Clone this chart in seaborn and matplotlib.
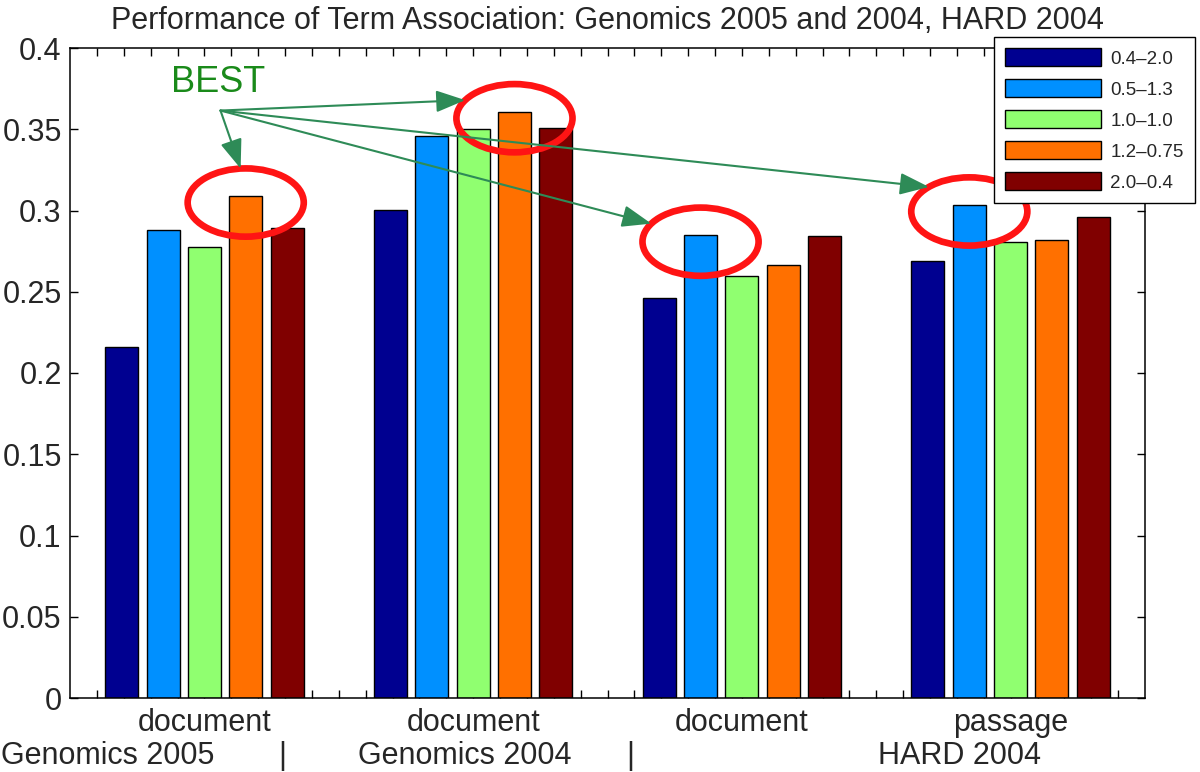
import numpy as np
import pandas as pd
import seaborn as sns
import matplotlib.pyplot as plt
from matplotlib.patches import Ellipse, Patch

# groups along x (labels repeat, so use unique keys)
groups = ['Genomics 2005 document', 'Genomics 2004 document',
          'HARD 2004 document', 'HARD 2004 passage']
group_labels = ['document', 'document', 'document', 'passage']
settings = ['0.4–2.0', '0.5–1.3', '1.0–1.0', '1.2–0.75', '2.0–0.4']

# values, one list per setting
v_04_20 = [0.2162, 0.3003, 0.2463, 0.2687]
v_05_13 = [0.2880, 0.3460, 0.2848, 0.3034]
v_10_10 = [0.2777, 0.3500, 0.2599, 0.2804]
v_12_075 = [0.3089, 0.3608, 0.2663, 0.2818]
v_20_04 = [0.2894, 0.3506, 0.2845, 0.2962]

best = ['1.2–0.75', '1.2–0.75', '0.5–1.3', '0.5–1.3']
colors = ['#000090', '#0090ff', '#90ff70', '#ff7000', '#800000']
yticks = [0, 0.05, 0.1, 0.15, 0.2, 0.25, 0.3, 0.35, 0.4]
ytick_labels = ['0', '0.05', '0.1', '0.15', '0.2', '0.25', '0.3', '0.35', '0.4']

series = [v_04_20, v_05_13, v_10_10, v_12_075, v_20_04]
rows = []
for s, vals in zip(settings, series):
    for g, v in zip(groups, vals):
        rows.append({'group': g, 'setting': s, 'value': v})
df = pd.DataFrame(rows)

sns.set_theme(style='ticks')
plt.rcParams['font.family'] = ['Liberation Sans', 'DejaVu Sans']

fig, ax = plt.subplots(figsize=(12, 7.72), dpi=100)
ax.set_position([70 / 1200, 1 - 698 / 772, 1075 / 1200, 650 / 772])

sns.barplot(data=df, x='group', y='value', hue='setting', order=groups,
            hue_order=settings, palette=colors, saturation=1, width=0.769,
            gap=0.2, edgecolor='black', linewidth=1, errorbar=None,
            legend=False, ax=ax)

ax.set_xlim(-0.5, 3.5)
ax.set_ylim(0, 0.4)
ax.set_yticks(yticks)
ax.set_yticklabels(ytick_labels, fontsize=22)
ax.set_xticks(range(len(groups)))
ax.set_xticklabels(group_labels, fontsize=22)
minor = [x for x in np.round(np.arange(-0.4, 3.45, 0.1), 1) if x != round(x)]
ax.set_xticks(minor, minor=True)
ax.tick_params(which='both', direction='in', top=True, right=True,
               length=6, width=1, color='black')
ax.tick_params(axis='x', pad=7)
ax.tick_params(axis='y', pad=6)
ax.set_xlabel('')
ax.set_ylabel('')
for sp in ax.spines.values():
    sp.set_linewidth(1.1)
    sp.set_color('black')

ax.set_title('Performance of Term Association: Genomics 2005 and 2004, HARD 2004',
             fontsize=22, pad=14)

# red ellipses around the best bar of each group + arrows from BEST
start = (0.06, 0.3615)
ax.text(0.052, 0.3785, 'BEST', fontsize=26, color='#1a8a1a',
        ha='center', va='center')
angles = [95, 148, 148, 134]
ew, eh = 0.432, 0.042
for i, b in enumerate(best):
    j = settings.index(b)
    bar = min(ax.containers[j], key=lambda p: abs(p.get_x() + p.get_width() / 2 - i))
    cx = bar.get_x() + bar.get_width() / 2
    cy = bar.get_height() - 0.004
    ax.add_patch(Ellipse((cx, cy), ew, eh, fill=False, edgecolor='#ff1414',
                         linewidth=4.8, zorder=5))
    t = np.radians(angles[i])
    tip = (cx + ew / 2 * np.cos(t), cy + eh / 2 * np.sin(t))
    ax.annotate('', xy=tip, xytext=start, zorder=6,
                arrowprops=dict(arrowstyle='-|>,head_length=1.2,head_width=0.45',
                                mutation_scale=15, color='#2e8b57', lw=1.5,
                                shrinkA=0, shrinkB=0))

handles = [Patch(facecolor=c, edgecolor='black', linewidth=1) for c in colors]
leg = ax.legend(handles, settings, loc='upper left',
                bbox_to_anchor=(994 / 1200, 1 - 37 / 772),
                bbox_transform=fig.transFigure, borderaxespad=0,
                fontsize=13.5, handlelength=5.1, handleheight=1.1,
                labelspacing=0.62, borderpad=0.6, handletextpad=0.5,
                fancybox=False, framealpha=1, edgecolor='black')
leg.get_frame().set_linewidth(1)

# second label line under the groups
fy = 1 / 772
fig.text(1 / 1200, fy, 'Genomics 2005', fontsize=22, ha='left', va='bottom')
fig.text(282 / 1200, fy, '|', fontsize=22, ha='center', va='bottom')
fig.text(358 / 1200, fy, 'Genomics 2004', fontsize=22, ha='left', va='bottom')
fig.text(630 / 1200, fy, '|', fontsize=22, ha='center', va='bottom')
fig.text(878 / 1200, fy, 'HARD 2004', fontsize=22, ha='left', va='bottom')

fig.savefig('out.png', dpi=100)
